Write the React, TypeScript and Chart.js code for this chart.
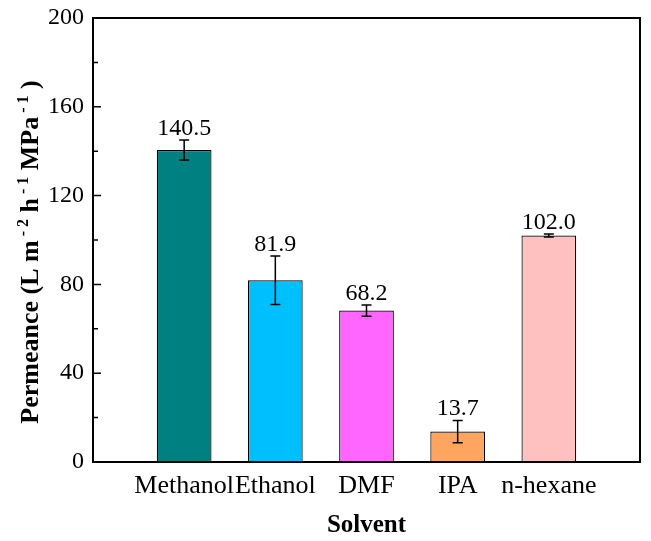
import React, { useEffect, useRef } from "react";
import { Chart, registerables } from "chart.js";

Chart.register(...registerables);

const categories = ["Methanol", "Ethanol", "DMF", "IPA", "n-hexane"];
const values = [140.5, 81.9, 68.2, 13.7, 102.0];
const errors = [4.5, 10.9, 2.5, 5.0, 0.7];
const valueLabels = ["140.5", "81.9", "68.2", "13.7", "102.0"];
const colors = ["#008080", "#00BFFF", "#FF66FF", "#FFA560", "#FFC0C0"];
const yTicks = [0, 40, 80, 120, 160, 200];
const yMinorTicks = [20, 60, 100, 140, 180];
// y-axis title pieces: [text, isSuperscript]
const yTitleParts: [string, boolean][] = [
  ["Permeance (L m", false],
  [" - 2", true],
  [" h", false],
  [" - 1", true],
  [" MPa", false],
  [" - 1", true],
  [" )", false],
];

const FONT = "'Liberation Serif', 'Times New Roman', serif";

const overlayPlugin = {
  id: "overlay",
  afterDatasetsDraw(chart: any) {
    const { ctx, chartArea, scales } = chart;
    const x = scales.x;
    const y = scales.y;
    ctx.save();
    // error bars
    ctx.strokeStyle = "#000";
    ctx.lineWidth = 1.5;
    ctx.fillStyle = "#000";
    ctx.font = `24px ${FONT}`;
    ctx.textAlign = "center";
    ctx.textBaseline = "alphabetic";
    values.forEach((v, i) => {
      const px = x.getPixelForValue(i + 1);
      const top = y.getPixelForValue(v + errors[i]);
      const bot = y.getPixelForValue(v - errors[i]);
      ctx.beginPath();
      ctx.moveTo(px, top);
      ctx.lineTo(px, bot);
      ctx.moveTo(px - 5, top);
      ctx.lineTo(px + 5, top);
      ctx.moveTo(px - 5, bot);
      ctx.lineTo(px + 5, bot);
      ctx.stroke();
      ctx.fillText(valueLabels[i], px, top - 5);
    });
    // frame
    ctx.lineWidth = 2;
    ctx.strokeRect(chartArea.left, chartArea.top, chartArea.right - chartArea.left, chartArea.bottom - chartArea.top);
    // inside ticks on left axis
    ctx.lineWidth = 1.5;
    ctx.beginPath();
    yTicks.forEach((t) => {
      const py = y.getPixelForValue(t);
      ctx.moveTo(chartArea.left, py);
      ctx.lineTo(chartArea.left + 8, py);
    });
    yMinorTicks.forEach((t) => {
      const py = y.getPixelForValue(t);
      ctx.moveTo(chartArea.left, py);
      ctx.lineTo(chartArea.left + 5, py);
    });
    ctx.stroke();

    // y-axis title with superscripts
    const mainFont = `bold 26px ${FONT}`;
    const supFont = `bold 16px ${FONT}`;
    let total = 0;
    const widths = yTitleParts.map(([t, sup]) => {
      ctx.font = sup ? supFont : mainFont;
      const w = ctx.measureText(t).width;
      total += w;
      return w;
    });
    const centerY = (chartArea.top + chartArea.bottom) / 2 + 12;
    ctx.translate(38, centerY);
    ctx.rotate(-Math.PI / 2);
    ctx.textAlign = "left";
    ctx.textBaseline = "alphabetic";
    let cx = -total / 2;
    yTitleParts.forEach(([t, sup], i) => {
      ctx.font = sup ? supFont : mainFont;
      ctx.fillText(t, cx, sup ? -10 : 0);
      cx += widths[i];
    });
    ctx.restore();
  },
};

export default function App() {
  const ref = useRef<HTMLCanvasElement>(null);
  useEffect(() => {
    document.body.style.margin = "0";
    const labels = ["", ...categories, ""];
    const data = [null, ...values, null];
    const chart = new Chart(ref.current as HTMLCanvasElement, {
      type: "bar",
      data: {
        labels,
        datasets: [
          {
            data: data as any,
            backgroundColor: ["#fff", ...colors, "#fff"],
            borderColor: "#000",
            borderWidth: 1.2,
            barPercentage: 0.6,
            categoryPercentage: 1.0,
          },
        ],
      },
      options: {
        responsive: false,
        animation: false,
        layout: { padding: { top: 18, right: 11, left: 0, bottom: 0 } },
        plugins: { legend: { display: false }, tooltip: { enabled: false } },
        scales: {
          x: {
            offset: false,
            grid: { display: false, drawTicks: false },
            border: { display: false },
            ticks: {
              color: "#000",
              font: { family: FONT, size: 26 },
              padding: 9,
              maxRotation: 0,
              autoSkip: false,
            },
            title: {
              display: true,
              text: "Solvent",
              color: "#000",
              font: { family: FONT, size: 25, weight: "bold" },
              padding: { top: 0, bottom: 0 },
            },
            afterFit(scale: any) {
              scale.height = 79;
              scale.paddingLeft = 0;
              scale.paddingRight = 0;
            },
          },
          y: {
            min: 0,
            max: 200,
            grid: { display: false, drawTicks: false },
            border: { display: false },
            afterBuildTicks(scale: any) {
              scale.ticks = yTicks.map((v) => ({ value: v }));
            },
            ticks: {
              color: "#000",
              font: { family: FONT, size: 24 },
              padding: 9,
            },
            title: { display: false },
            afterFit(scale: any) {
              scale.width = 93;
              scale.paddingTop = 0;
              scale.paddingBottom = 0;
            },
          },
        },
      },
      plugins: [overlayPlugin],
    });
    return () => chart.destroy();
  }, []);
  return (
    <div style={{ position: "absolute", left: 0, top: 0, width: 651, height: 541 }}>
      <canvas ref={ref} width={651} height={541} />
    </div>
  );
}
